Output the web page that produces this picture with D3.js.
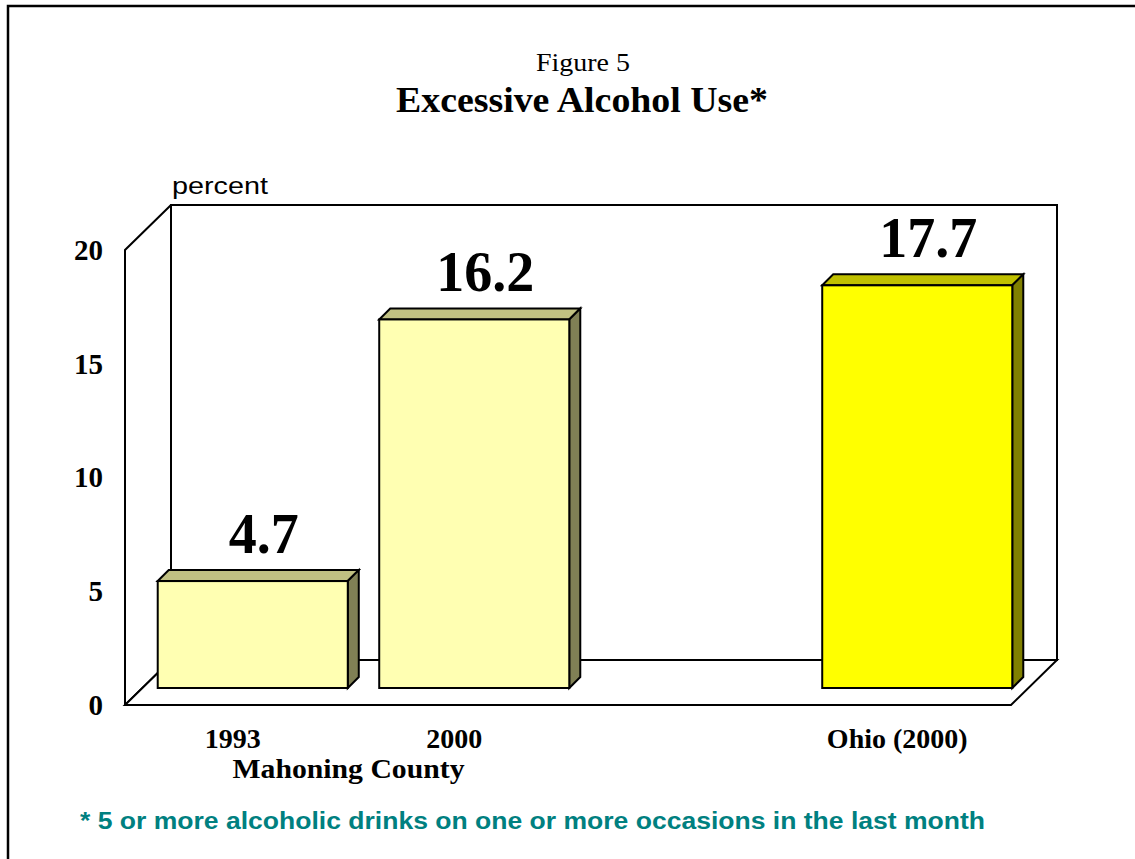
<!DOCTYPE html>
<html><head><meta charset="utf-8">
<script src="https://cdn.jsdelivr.net/npm/d3@7"></script>
<style>body{margin:0;background:#fff}svg{display:block}</style>
</head><body>
<svg id="c" width="1135" height="859"></svg>
<script>
const categories = ["1993", "2000", "", "Ohio (2000)"];
const values = [4.7, 16.2, null, 17.7];
const valueLabels = ["4.7", "16.2", "", "17.7"];
const barColors = ["light", "light", "", "bright"];
const yTicks = [0, 5, 10, 15, 20];
const groupLabel = "Mahoning County";
const footnote = "* 5 or more alcoholic drinks on one or more occasions in the last month";

const palette = {
  light: {front: "#FFFFB2", top: "#C0C082", side: "#808055"},
  bright: {front: "#FFFF00", top: "#C0C000", side: "#808000"}
};

const svg = d3.select("#c");
const serif = "'Liberation Serif','Times New Roman',serif";
const sans = "'Liberation Sans',Arial,sans-serif";

// outer frame
svg.append("path").attr("d", "M8,859 L8,6 L1135,6")
  .attr("fill", "none").attr("stroke", "#000").attr("stroke-width", 2.5);

// titles
svg.append("text").attr("x", 583).attr("y", 71).attr("text-anchor", "middle")
  .attr("font-family", serif).attr("font-size", 26)
  .attr("textLength", 94).attr("lengthAdjust", "spacingAndGlyphs").text("Figure 5");
svg.append("text").attr("x", 582).attr("y", 112).attr("text-anchor", "middle")
  .attr("font-family", serif).attr("font-weight", "bold").attr("font-size", 35)
  .attr("textLength", 372).attr("lengthAdjust", "spacingAndGlyphs").text("Excessive Alcohol Use*");

// geometry
const x0 = 125, x1 = 1011, yBottom = 705, yTop = 250;
const depthX = 46, depthY = 45;   // wall depth
const barOff = 17;                // bar offset into depth
const barD = 11;                  // bar depth

const x = d3.scaleBand().domain(d3.range(categories.length)).range([x0, x1])
  .paddingInner(0.142).paddingOuter(0.071);
const y = d3.scaleLinear().domain([0, 20]).range([yBottom, yTop]);

const frameStyle = s => s.attr("fill", "none").attr("stroke", "#000").attr("stroke-width", 2);

// back wall
svg.append("rect").attr("x", x0 + depthX).attr("y", y(20) - depthY)
  .attr("width", x1 - x0).attr("height", y(0) - y(20))
  .attr("fill", "#fff").attr("stroke", "#000").attr("stroke-width", 2);
// left wall
svg.append("path").call(frameStyle).attr("d",
  `M${x0},${y(0)} L${x0},${y(20)} L${x0 + depthX},${y(20) - depthY}`);
svg.append("path").call(frameStyle).attr("d",
  `M${x0},${y(0)} L${x0 + depthX},${y(0) - depthY}`);
// floor
svg.append("path").attr("fill", "#fff").attr("stroke", "#000").attr("stroke-width", 2)
  .attr("d", `M${x0},${y(0)} L${x1},${y(0)} L${x1 + depthX},${y(0) - depthY} L${x0 + depthX},${y(0) - depthY} Z`);
svg.append("path").call(frameStyle).attr("d",
  `M${x0},${y(0)} L${x0},${y(20)}`);

// y axis labels
const yAxis = d3.axisLeft(y).tickValues(yTicks).tickSize(0).tickPadding(22).tickFormat(d3.format("d"));
const ga = svg.append("g").attr("transform", `translate(${x0},0)`).call(yAxis);
ga.select(".domain").remove();
ga.selectAll("text").attr("font-family", serif).attr("font-weight", "bold")
  .attr("font-size", 29).attr("fill", "#000").attr("dy", "0.32em");

svg.append("text").attr("x", 172).attr("y", 194).attr("font-family", sans)
  .attr("font-size", 24).attr("textLength", 96).attr("lengthAdjust", "spacingAndGlyphs").text("percent");

// bars
const bars = categories.map((c, i) => ({c, v: values[i], lab: valueLabels[i], col: barColors[i], i}))
  .filter(d => d.v != null);
const gb = svg.append("g");
bars.forEach(d => {
  const p = palette[d.col];
  const L = x(d.i) + barOff, R = L + x.bandwidth();
  const B = y(0) - barOff, T = y(d.v) - barOff;
  const g = gb.append("g").attr("stroke", "#000").attr("stroke-width", 2).attr("stroke-linejoin", "miter");
  g.append("path").attr("fill", p.top)
    .attr("d", `M${L},${T} L${L + barD},${T - barD} L${R + barD},${T - barD} L${R},${T} Z`);
  g.append("path").attr("fill", p.side)
    .attr("d", `M${R},${T} L${R + barD},${T - barD} L${R + barD},${B - barD} L${R},${B} Z`);
  g.append("rect").attr("fill", p.front).attr("x", L).attr("y", T)
    .attr("width", R - L).attr("height", B - T);
  svg.append("text").attr("x", (L + R) / 2 + 11).attr("y", T - barD - 17)
    .attr("text-anchor", "middle").attr("font-family", serif).attr("font-weight", "bold")
    .attr("font-size", 56).text(d.lab);
});

// category labels
svg.append("g").selectAll("text").data(categories.map((c, i) => ({c, i})).filter(d => d.c))
  .join("text")
  .attr("x", d => x(d.i) + x.bandwidth() / 2 - 3).attr("y", 748)
  .attr("text-anchor", "middle").attr("font-family", serif).attr("font-weight", "bold")
  .attr("font-size", 28)
  .text(d => d.c);
svg.append("text").attr("x", (x(0) + x(1) + x.bandwidth()) / 2 + 2).attr("y", 778)
  .attr("text-anchor", "middle").attr("font-family", serif).attr("font-weight", "bold")
  .attr("font-size", 27).attr("textLength", 232).attr("lengthAdjust", "spacingAndGlyphs")
  .text(groupLabel);

// footnote
svg.append("text").attr("x", 80).attr("y", 829).attr("font-family", sans)
  .attr("font-weight", "bold").attr("font-size", 23).attr("fill", "#008080")
  .attr("textLength", 905).attr("lengthAdjust", "spacingAndGlyphs").text(footnote);
</script>
</body></html>
